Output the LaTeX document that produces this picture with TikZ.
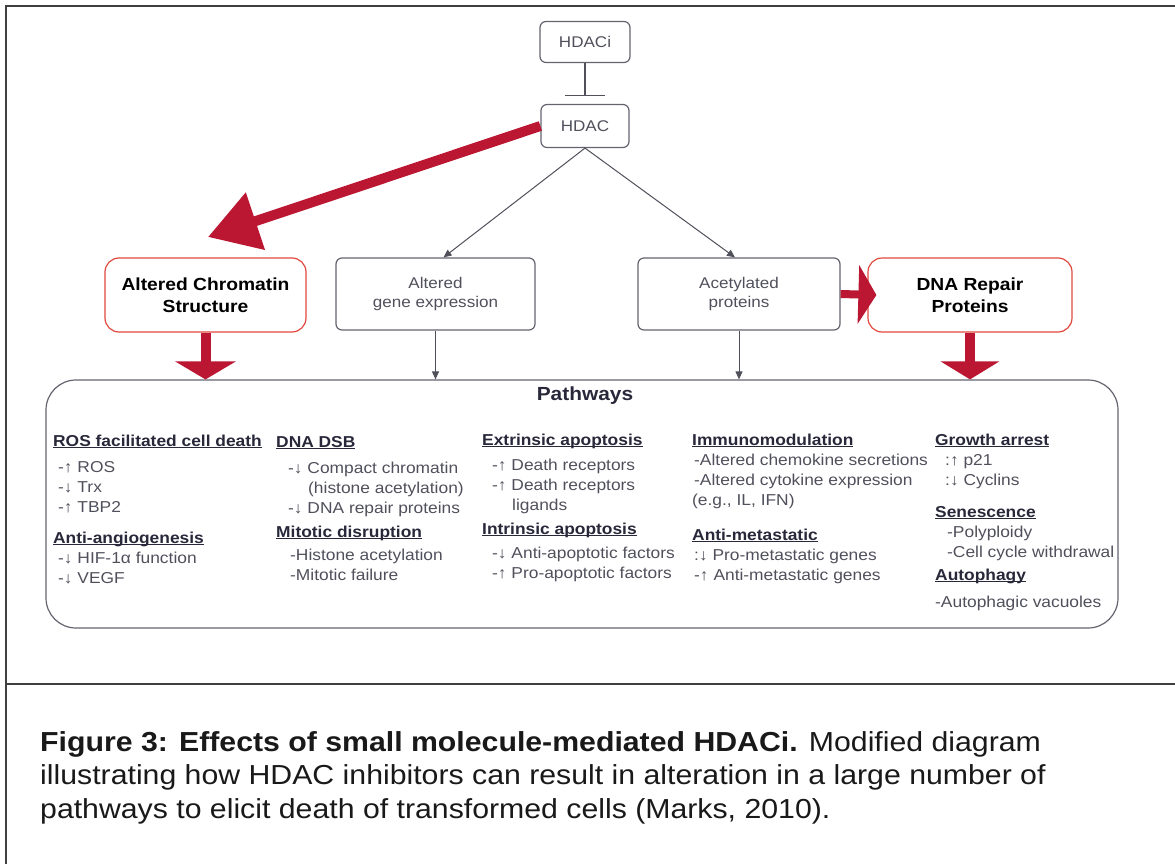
\documentclass[tikz,border=0pt]{standalone}
\usepackage{fontspec}
\setmainfont{Liberation Sans}[FakeStretch=1.1]
\usepackage{tikz}
\usetikzlibrary{arrows.meta}
\usetikzlibrary{calc}
\definecolor{arrowred}{RGB}{187,22,50}
\definecolor{boxred}{RGB}{224,72,62}
\definecolor{boxgray}{RGB}{100,100,112}
\definecolor{labelgray}{RGB}{80,80,92}
\definecolor{headdark}{RGB}{40,40,58}
\newcommand{\phead}[1]{{\color{headdark}\bfseries\underline{\smash{#1}}}}

\begin{document}
\begin{tikzpicture}[x=1pt,y=-1pt,
    graybox/.style={draw=boxgray,line width=1.2pt,rounded corners=6pt,align=center,text=labelgray,font=\fontsize{15.5}{19}\selectfont},
    redbox/.style={draw=boxred,line width=1.2pt,rounded corners=14pt,align=center,font=\fontsize{17.5}{22}\selectfont\bfseries},
    thinarrow/.style={draw=boxgray!80!black,line width=1pt,-{Triangle[length=8pt,width=7pt]}},
    redarrow/.style={draw=arrowred,fill=arrowred,line width=10pt},
    pathtext/.style={anchor=base west,align=left,inner sep=0pt,text=labelgray,font=\fontsize{15.8}{20}\selectfont}]
\useasboundingbox (0,0) rectangle (1175,864);
% frame
\draw[line width=1.5pt,black!75] (1175,6) -- (6,6) -- (6,864);
\draw[line width=1.5pt,black!75] (6,684) -- (1175,684);
% boxes
\node (hdaci) at (585,42)[graybox,minimum width=90pt,minimum height=41pt]{HDACi};
\node (hdac) at (585,126)[graybox,minimum width=88pt,minimum height=43pt]{HDAC};
\node (chrom) at (205.5,295)[redbox,minimum width=201pt,minimum height=74pt]{Altered Chromatin\\Structure};
\node (gene) at (435.5,294)[graybox,minimum width=199pt,minimum height=72pt]{Altered\\gene expression};
\node (acetyl) at (739,294)[graybox,minimum width=202pt,minimum height=72pt]{Acetylated\\proteins};
\node (repair) at (970,295)[redbox,minimum width=204pt,minimum height=74pt]{DNA Repair\\Proteins};
\node (path) at (582,504)[draw=boxgray,line width=1.2pt,rounded corners=30pt,minimum width=1072pt,minimum height=248pt]{};
\node (pathtitle) at (585,396)[font=\fontsize{19}{22}\selectfont\bfseries,text=headdark]{Pathways};
% connectors
\draw[boxgray!80!black,line width=1.3pt,-{Bar[width=40pt]}] (hdaci.south) -- ([yshift=8pt]hdac.north);
\coordinate (chromtip) at (208,237);
\draw[redarrow,-{Triangle[length=50pt,width=58pt]}] (hdac.west) -- (chromtip);
\draw[thinarrow] (hdac.south) -- ([xshift=8pt]gene.north);
\draw[thinarrow] (hdac.south) -- ([xshift=-4pt]acetyl.north);
\draw[thinarrow] (gene.south) -- (gene.south |- path.north);
\draw[thinarrow] (acetyl.south) -- (acetyl.south |- path.north);
\draw[redarrow,-{Triangle[length=18pt,width=60pt]}] (chrom.south) -- (chrom.south |- path.north);
\draw[redarrow,-{Triangle[length=18pt,width=58pt]}] (repair.south) -- (repair.south |- path.north);
\draw[redarrow,line width=8pt,-{Triangle[length=18pt,width=58pt]}] (acetyl.east) -- ([xshift=9pt]repair.west);
% pathway lists (placed at the baseline of their last line)
\node (ros) at (53,512)[pathtext]{\phead{ROS facilitated cell death}\\[6pt]
  \hspace*{5pt}-↑ ROS\\ \hspace*{5pt}-↓ Trx\\ \hspace*{5pt}-↑ TBP2};
\node (angio) at (53,583)[pathtext]{\phead{Anti-angiogenesis}\\
  \hspace*{5pt}-↓ HIF-1α function\\ \hspace*{5pt}-↓ VEGF};
\node (dsb) at (276,513)[pathtext]{\phead{DNA DSB}\\[6pt]
  \hspace*{12pt}-↓ Compact chromatin\\ \hspace*{32pt}(histone acetylation)\\ \hspace*{12pt}-↓ DNA repair proteins};
\node (mitotic) at (276,580)[pathtext]{\phead{Mitotic disruption}\\[3pt]
  \hspace*{14pt}-Histone acetylation\\ \hspace*{14pt}-Mitotic failure};
\node (extrinsic) at (482,510)[pathtext]{\phead{Extrinsic apoptosis}\\[5pt]
  \hspace*{10pt}-↑ Death receptors\\ \hspace*{10pt}-↑ Death receptors\\ \hspace*{30pt}ligands};
\node (intrinsic) at (482,578)[pathtext]{\phead{Intrinsic apoptosis}\\[4pt]
  \hspace*{10pt}-↓ Anti-apoptotic factors\\ \hspace*{10pt}-↑ Pro-apoptotic factors};
\node (immuno) at (692,505)[pathtext]{\phead{Immunomodulation}\\
  \hspace*{2pt}-Altered chemokine secretions\\ \hspace*{2pt}-Altered cytokine expression\\ (e.g., IL, IFN)};
\node (metast) at (692,580)[pathtext]{\phead{Anti-metastatic}\\
  \hspace*{2pt}:↓ Pro-metastatic genes\\ \hspace*{2pt}-↑ Anti-metastatic genes};
\node (growth) at (935,485)[pathtext]{\phead{Growth arrest}\\
  \hspace*{10pt}:↑ p21\\ \hspace*{10pt}:↓ Cyclins};
\node (senesc) at (935,557)[pathtext]{\phead{Senescence}\\
  \hspace*{12pt}-Polyploidy\\ \hspace*{12pt}-Cell cycle withdrawal};
\node (autoph) at (935,607)[pathtext]{\phead{Autophagy}\\[7pt]
  -Autophagic vacuoles};
% caption
\node (caption) at (40,818)[anchor=base west,align=left,inner sep=0pt,text=black!90,font=\fontsize{27.5}{33.5}\selectfont]{\textbf{Figure 3: Effects of small molecule-mediated HDACi.} Modified diagram\\
  illustrating how HDAC inhibitors can result in alteration in a large number of\\
  pathways to elicit death of transformed cells (Marks, 2010).};
\end{tikzpicture}
\end{document}
